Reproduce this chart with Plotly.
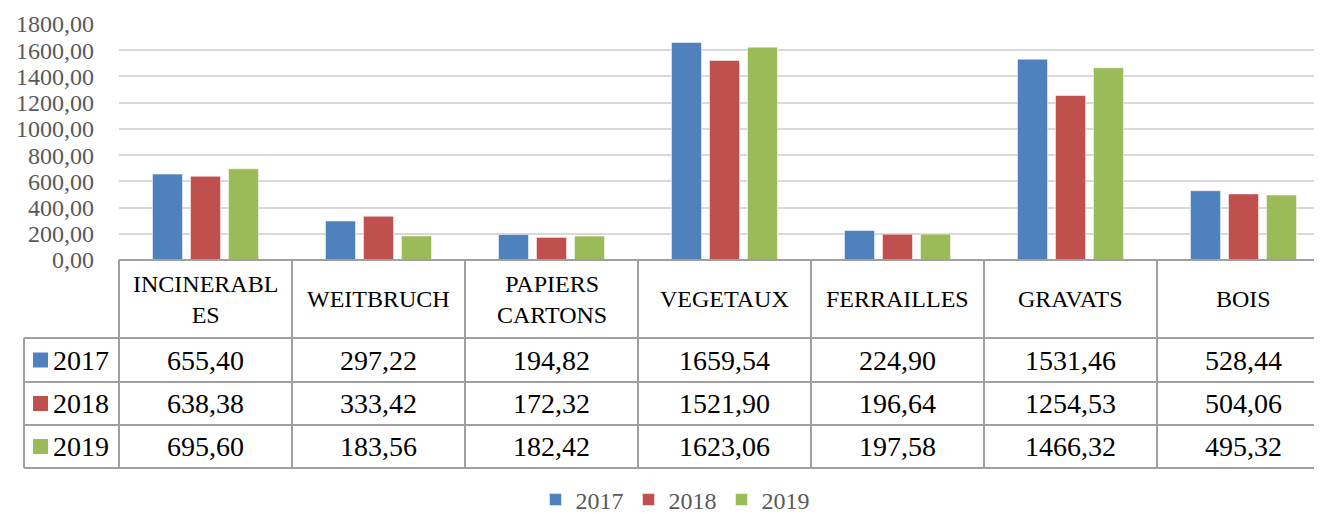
"""Tonnages par filière de déchets, 2017-2019, avec table de données sous le graphique."""

import plotly.graph_objects as go

CATEGORIES = ["INCINERABL<br>ES", "WEITBRUCH", "PAPIERS<br>CARTONS", "VEGETAUX", "FERRAILLES", "GRAVATS", "BOIS"]
YEARS = ["2017", "2018", "2019"]
VALUES_2017 = [655.40, 297.22, 194.82, 1659.54, 224.90, 1531.46, 528.44]
VALUES_2018 = [638.38, 333.42, 172.32, 1521.90, 196.64, 1254.53, 504.06]
VALUES_2019 = [695.60, 183.56, 182.42, 1623.06, 197.58, 1466.32, 495.32]

COLORS = ["#4F81BD", "#C0504D", "#9BBB59"]
SERIES = [VALUES_2017, VALUES_2018, VALUES_2019]

# page body adds an 8px margin, so the figure is drawn 8px in from the window corner
OFF = 8
W, H = 1322 - OFF, 514 - OFF
PLOT_L, PLOT_T, PLOT_B = 119, 24, 260  # window pixels
COL_W = 173
TABLE_ROWS = [338, 382, 425, 468]
TABLE_LEFT = 24
GRID = "#A0A0A0"
FONT = "Liberation Serif"


def fmt(v):
    return f"{v:.2f}".replace(".", ",")


def py(p):
    return (PLOT_B - p) / (PLOT_B - PLOT_T)


def px(p):
    return (p - PLOT_L) / (W + OFF - PLOT_L)


fig = go.Figure()
x_idx = list(range(len(CATEGORIES)))
for year, vals, color in zip(YEARS, SERIES, COLORS):
    fig.add_trace(
        go.Bar(
            x=x_idx,
            y=vals,
            name=year,
            marker=dict(color=color, line=dict(color="rgba(255,255,255,0.5)", width=1)),
        )
    )

shapes = []
line = dict(color=GRID, width=2)
right = px(W + OFF + 20)
shapes.append(dict(type="line", xref="paper", yref="paper", x0=0, x1=right, y0=py(PLOT_B), y1=py(PLOT_B), line=line))
for r in TABLE_ROWS:
    shapes.append(dict(type="line", xref="paper", yref="paper", x0=px(TABLE_LEFT), x1=right, y0=py(r), y1=py(r), line=line))
for i in range(len(CATEGORIES) + 1):
    xp = px(PLOT_L + i * COL_W)
    shapes.append(dict(type="line", xref="paper", yref="paper", x0=xp, x1=xp, y0=py(PLOT_B), y1=py(TABLE_ROWS[-1]), line=line))
shapes.append(dict(type="line", xref="paper", yref="paper", x0=px(TABLE_LEFT), x1=px(TABLE_LEFT),
                   y0=py(TABLE_ROWS[0]), y1=py(TABLE_ROWS[-1]), line=line))

annotations = []
for i, cat in enumerate(CATEGORIES):
    annotations.append(dict(x=i, y=py((PLOT_B + TABLE_ROWS[0]) / 2), xref="x", yref="paper", text=cat,
                            showarrow=False, font=dict(family=FONT, size=24, color="#000000"),
                            xanchor="center", yanchor="middle"))

for k, (year, vals, color) in enumerate(zip(YEARS, SERIES, COLORS)):
    top, bot = TABLE_ROWS[k], TABLE_ROWS[k + 1]
    mid = (top + bot) / 2
    shapes.append(dict(type="rect", xref="paper", yref="paper", x0=px(33), x1=px(48), y0=py(mid - 7.5), y1=py(mid + 7.5),
                       fillcolor=color, line=dict(width=0)))
    annotations.append(dict(x=px(51), y=py(mid), xref="paper", yref="paper", text=year, showarrow=False,
                            font=dict(family=FONT, size=28, color="#000000"), xanchor="left", yanchor="middle"))
    for i, v in enumerate(vals):
        annotations.append(dict(x=i, y=py(mid), xref="x", yref="paper", text=fmt(v), showarrow=False,
                                font=dict(family=FONT, size=28, color="#000000"), xanchor="center", yanchor="middle"))

fig.update_layout(
    width=W,
    height=H,
    margin=dict(l=PLOT_L - OFF, r=0, t=PLOT_T - OFF, b=H + OFF - PLOT_B, autoexpand=False),
    paper_bgcolor="white",
    plot_bgcolor="white",
    barmode="group",
    bargap=0.341,
    bargroupgap=0.21,
    separators=", ",
    font=dict(family=FONT, color="#595959"),
    showlegend=True,
    legend=dict(orientation="h", x=px(675), y=py(500), xanchor="center", yanchor="middle",
                font=dict(family=FONT, size=24, color="#595959"), itemwidth=30, traceorder="normal"),
    shapes=shapes,
    annotations=annotations,
    xaxis=dict(range=[-0.5, -0.5 + (W + OFF - PLOT_L) / COL_W], showticklabels=False, showgrid=False,
               zeroline=False, showline=False, fixedrange=True),
    yaxis=dict(range=[0, 1800], dtick=200, tickformat=".2f", showgrid=True, gridcolor="#D9D9D9", gridwidth=1.5,
               zeroline=False, showline=False, ticks="", ticklabelstandoff=24,
               tickfont=dict(family=FONT, size=24, color="#595959")),
)

fig.write_html("out.html")
